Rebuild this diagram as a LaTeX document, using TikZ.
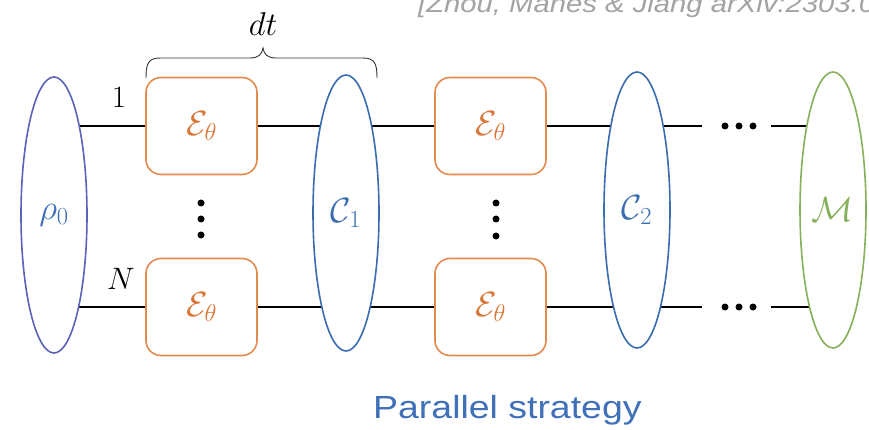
\RequirePackage{fix-cm}
\documentclass[tikz,border=0pt]{standalone}
\usepackage{fontspec}
\usepackage{graphicx}
\newfontfamily\arialfont{Liberation Sans}
\usetikzlibrary{shapes.geometric,backgrounds}
\definecolor{rhocol}{HTML}{5A62BA}
\definecolor{ccol}{HTML}{3A6DB0}
\definecolor{mcol}{HTML}{86B05A}
\definecolor{boxcol}{HTML}{E38A4F}
\definecolor{ecol}{HTML}{D9773A}
\definecolor{txtblue}{HTML}{3F70B8}
\definecolor{citegray}{HTML}{A3A3A3}
\tikzset{
  ell/.style={ellipse, line width=1.6pt, fill=white, minimum width=66pt, minimum height=276pt, inner sep=0pt, font=\fontsize{35}{40}\selectfont},
  chan/.style={rectangle, rounded corners=15pt, draw=boxcol, line width=1.6pt, fill=white, minimum width=111pt, minimum height=97pt, inner sep=0pt, text=ecol, font=\fontsize{35}{40}\selectfont},
  wire/.style={line width=1.8pt, black},
  bigdot/.style={circle, fill=black, inner sep=0pt, minimum size=7pt},
  lab/.style={font=\fontsize{31}{36}\selectfont, inner sep=0pt}
}
\begin{document}
\begin{tikzpicture}[x=1pt,y=-1pt]
\useasboundingbox (0,0) rectangle (869,430);
% citation
\node[anchor=base west, inner sep=0pt, text=citegray, font=\arialfont\itshape\fontsize{25}{30}\selectfont] (cite) at (418,13) {\scalebox{1.17}[1]{[Zhou, Manes \& Jiang arXiv:2303.0}};
% shapes
\node[ell, draw=rhocol, text=txtblue] (rho) at (54,215) {$\rho_0$};
\node[ell, draw=ccol, text=ccol] (C1) at (346,213) {$\mathcal{C}_1$};
\node[ell, draw=ccol, text=ccol] (C2) at (637,210) {$\mathcal{C}_2$};
\node[ell, draw=mcol, text=mcol] (M) at (833,210) {$\mathcal{M}$};
\node[chan] (E11) at (201.5,126) {$\mathcal{E}_\theta$};
\node[chan] (E1N) at (201.5,307) {$\mathcal{E}_\theta$};
\node[chan] (E21) at (490.5,126) {$\mathcal{E}_\theta$};
\node[chan] (E2N) at (490.5,307) {$\mathcal{E}_\theta$};
% wire labels
\node[lab] (one) at (119,98) {$1$};
\node[lab] (en) at (121,279) {$N$};
% dt brace
\node[lab, font=\fontsize{33}{38}\selectfont] (dt) at (263,24) {$dt$};
\draw[line width=0.9pt, black!80] (146,78) .. controls (146,64) and (148,58) .. (160,58) -- (250,58) .. controls (259,58) and (262,54) .. (263,48) .. controls (264,54) and (267,58) .. (276,58) -- (363,58) .. controls (375,58) and (377,64) .. (377,78);
% dots
\node[bigdot] (v1a) at (201,203) {};
\node[bigdot] (v1b) at (201,219) {};
\node[bigdot] (v1c) at (201,235) {};
\node[bigdot] (v2a) at (496,203) {};
\node[bigdot] (v2b) at (496,219) {};
\node[bigdot] (v2c) at (496,236) {};
\node[bigdot] (h1a) at (725,126) {};
\node[bigdot] (h1b) at (739,126) {};
\node[bigdot] (h1c) at (753,126) {};
\node[bigdot] (h2a) at (725,307) {};
\node[bigdot] (h2b) at (739,307) {};
\node[bigdot] (h2c) at (753,307) {};
\coordinate (t1) at (702,126);
\coordinate (t2) at (771,126);
\coordinate (b1) at (702,307);
\coordinate (b2) at (771,307);
% wires
\begin{scope}[on background layer]
\fill[white] (0,0) rectangle (869,430);
\draw[wire] (rho.center |- E11.west) -- (E11.west);
\draw[wire] (E11.east) -- (C1.center |- E11.east);
\draw[wire] (C1.center |- E21.west) -- (E21.west);
\draw[wire] (E21.east) -- (C2.center |- E21.east);
\draw[wire] (C2.center |- t1) -- (t1);
\draw[wire] (t2) -- (M.center |- t2);
\draw[wire] (rho.center |- E1N.west) -- (E1N.west);
\draw[wire] (E1N.east) -- (C1.center |- E1N.east);
\draw[wire] (C1.center |- E2N.west) -- (E2N.west);
\draw[wire] (E2N.east) -- (C2.center |- E2N.east);
\draw[wire] (C2.center |- b1) -- (b1);
\draw[wire] (b2) -- (M.center |- b2);
\end{scope}
% caption
\node[anchor=base west, inner sep=0pt, text=txtblue, font=\arialfont\fontsize{32}{38}\selectfont] (cap) at (373,418) {\scalebox{1.17}[1]{Parallel strategy}};
\end{tikzpicture}
\end{document}
